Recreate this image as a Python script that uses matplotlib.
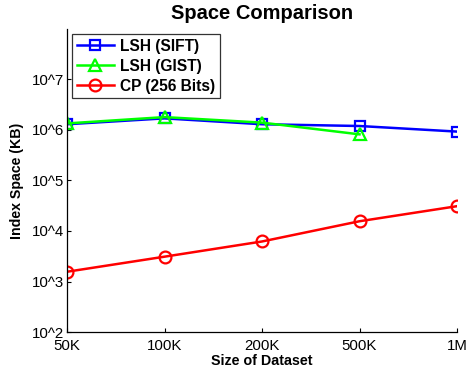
import matplotlib
matplotlib.use("Agg")
import matplotlib.pyplot as plt
import numpy as np

plt.rcParams['font.family'] = ['Liberation Sans', 'DejaVu Sans']

categories = ["50K", "100K", "200K", "500K", "1M"]
lsh_sift = [1.3e6, 1.7e6, 1.3e6, 1.2e6, 9.3e5]
lsh_gist = [1.35e6, 1.8e6, 1.4e6, 8.2e5]
cp_256 = [1.56e3, 3.1e3, 6.2e3, 1.56e4, 3.1e4]
ytick_vals = [1e2, 1e3, 1e4, 1e5, 1e6, 1e7]
ytick_labels = ["10^2", "10^3", "10^4", "10^5", "10^6", "10^7"]

fig = plt.figure(figsize=(4.68, 3.75), dpi=100)
ax = fig.add_axes([67/468, 1 - 332/375, (457-67)/468, (332-29)/375])

x = np.arange(len(categories))
ax.plot(x, lsh_sift, color='#0000ff', lw=1.8, marker='s', ms=7, mfc='none', mew=1.6, label='LSH (SIFT)')
ax.plot(x[:len(lsh_gist)], lsh_gist, color='#00ff00', lw=1.8, marker='^', ms=9, mfc='none', mew=1.6, label='LSH (GIST)')
ax.plot(x, cp_256, color='#ff0000', lw=1.8, marker='o', ms=8.5, mfc='none', mew=1.6, label='CP (256 Bits)')

ax.set_yscale('log')
ax.set_ylim(1e2, 1e8)
ax.set_xlim(0, len(categories) - 1)
ax.set_yticks(ytick_vals)
ax.set_yticklabels(ytick_labels)
ax.yaxis.set_minor_locator(matplotlib.ticker.NullLocator())
ax.set_xticks(x)
ax.set_xticklabels(categories)
ax.tick_params(direction='in', length=3, width=0.8, labelsize=10.8)
ax.tick_params(axis='x', pad=5)
ax.tick_params(axis='y', pad=2)
for s in ['top', 'right']:
    ax.spines[s].set_visible(False)
for s in ['left', 'bottom']:
    ax.spines[s].set_linewidth(0.9)

ax.set_title('Space Comparison', fontsize=14.5, fontweight='bold', pad=7)
ax.set_xlabel('Size of Dataset', fontsize=10.3, fontweight='bold', labelpad=1)
ax.set_ylabel('Index Space (KB)', fontsize=10.2, fontweight='bold', labelpad=6)

leg = ax.legend(loc='upper left', bbox_to_anchor=(0.013, 0.983), frameon=True, fancybox=False,
                edgecolor='black', prop={'weight': 'bold', 'size': 11.2}, handlelength=2.4,
                borderpad=0.3, labelspacing=0.32, handletextpad=0.4, borderaxespad=0)
leg.get_frame().set_linewidth(0.9)

fig.savefig('out.png', dpi=100)
